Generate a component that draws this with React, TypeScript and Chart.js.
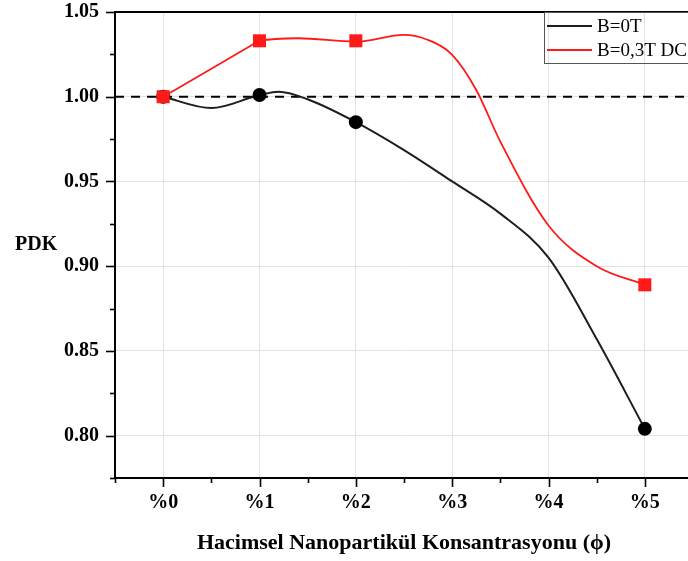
import React, { useEffect, useRef } from 'react';
import { Chart, registerables } from 'chart.js';

Chart.register(...registerables);

// ---- data ----
const categories = ['%0', '%1', '%2', '%3', '%4', '%5'];
const markerX = [0, 1, 2, 5];
const b0Markers = [1.0, 1.001, 0.985, 0.804];
const b03Markers = [1.0, 1.033, 1.033, 0.889];
// smoothed curves as traced in the picture
const b0CurveX = [0, 0.5, 1, 1.2, 1.5, 2, 2.5, 3, 3.5, 4, 4.5, 5];
const b0CurveY = [1.0, 0.9933, 1.001, 1.003, 0.9985, 0.985, 0.9685, 0.95, 0.931, 0.905, 0.857, 0.804];
const b03CurveX = [0, 0.5, 0.9, 1, 1.4, 2, 2.5, 2.75, 3, 3.25, 3.5, 4, 4.5, 5];
const b03CurveY = [1.0, 1.0165, 1.0298, 1.033, 1.0345, 1.0325, 1.0365, 1.0335, 1.0247, 1.004, 0.9735, 0.924, 0.9, 0.889];
const yTicks = [0.8, 0.85, 0.9, 0.95, 1.0, 1.05];
const yMinorTicks = [0.775, 0.825, 0.875, 0.925, 0.975, 1.025];
const xMinorTicks = [-0.5, 0.5, 1.5, 2.5, 3.5, 4.5, 5.5];
const refLineY = 1.0;
const seriesLabels = ['B=0T', 'B=0,3T DC'];
const xTitle = 'Hacimsel Nanopartikül Konsantrasyonu (ϕ)';
const yTitle = 'PDK';

const SERIF = '"Liberation Serif", "Times New Roman", "DejaVu Serif", serif';
const BLACK = '#1e1e1e';
const RED = '#ff1a1a';

const pts = (xs: number[], ys: number[]) => xs.map((x, i) => ({ x, y: ys[i] }));

const framePlugin = {
  id: 'frameAndTicks',
  afterDraw(chart: any) {
    const { ctx, chartArea, scales } = chart;
    const xs = scales.x;
    const ys = scales.y;
    ctx.save();
    ctx.strokeStyle = '#000';
    ctx.lineWidth = 2;
    // top frame
    ctx.beginPath();
    ctx.moveTo(chartArea.left, chartArea.top);
    ctx.lineTo(chartArea.right, chartArea.top);
    ctx.stroke();
    ctx.lineWidth = 1.6;
    // y ticks
    yTicks.forEach((v) => {
      const p = Math.round(ys.getPixelForValue(v)) + 0.5;
      ctx.beginPath();
      ctx.moveTo(chartArea.left - 9, p);
      ctx.lineTo(chartArea.left, p);
      ctx.stroke();
    });
    yMinorTicks.forEach((v) => {
      const p = Math.round(ys.getPixelForValue(v)) + 0.5;
      ctx.beginPath();
      ctx.moveTo(chartArea.left - 5, p);
      ctx.lineTo(chartArea.left, p);
      ctx.stroke();
    });
    // x ticks
    categories.forEach((_, i) => {
      const p = Math.round(xs.getPixelForValue(i)) + 0.5;
      ctx.beginPath();
      ctx.moveTo(p, chartArea.bottom);
      ctx.lineTo(p, chartArea.bottom + 9);
      ctx.stroke();
    });
    xMinorTicks.forEach((v) => {
      const p = Math.round(xs.getPixelForValue(v)) + 0.5;
      ctx.beginPath();
      ctx.moveTo(p, chartArea.bottom);
      ctx.lineTo(p, chartArea.bottom + 5);
      ctx.stroke();
    });
    // y title (horizontal)
    ctx.fillStyle = '#000';
    ctx.font = `bold 20px ${SERIF}`;
    ctx.textAlign = 'left';
    ctx.textBaseline = 'middle';
    ctx.fillText(yTitle, 15, 245);
    // legend
    const lx = chartArea.right - 149;
    const ly = chartArea.top;
    ctx.lineWidth = 1;
    ctx.strokeStyle = '#555';
    ctx.strokeRect(lx + 0.5, ly + 0.5, 200, 51);
    const colors = [BLACK, RED];
    seriesLabels.forEach((lab, i) => {
      const y = ly + 14 + i * 24;
      ctx.strokeStyle = colors[i];
      ctx.lineWidth = 2;
      ctx.beginPath();
      ctx.moveTo(lx + 3, y);
      ctx.lineTo(lx + 48, y);
      ctx.stroke();
      ctx.fillStyle = '#000';
      ctx.font = `19px ${SERIF}`;
      ctx.textBaseline = 'middle';
      ctx.fillText(lab, lx + 53, y + 1);
    });
    ctx.restore();
  },
};

export default function App() {
  const ref = useRef<HTMLCanvasElement>(null);
  useEffect(() => {
    const canvas = ref.current;
    if (!canvas) return;
    const chart = new Chart(canvas, {
      type: 'line',
      data: {
        datasets: [
          {
            label: seriesLabels[1] + ' markers',
            data: pts(markerX, b03Markers),
            showLine: false,
            pointStyle: 'rect',
            pointRadius: 9.2,
            pointBackgroundColor: RED,
            pointBorderColor: RED,
            pointBorderWidth: 0,
            order: 0,
          } as any,
          {
            label: seriesLabels[0] + ' markers',
            data: pts(markerX, b0Markers),
            showLine: false,
            pointStyle: 'circle',
            pointRadius: 7,
            pointBackgroundColor: '#000',
            pointBorderColor: '#000',
            pointBorderWidth: 0,
            order: 1,
          },
          {
            label: seriesLabels[1],
            data: pts(b03CurveX, b03CurveY),
            borderColor: RED,
            borderWidth: 1.8,
            pointRadius: 0,
            cubicInterpolationMode: 'monotone',
            order: 2,
          },
          {
            label: seriesLabels[0],
            data: pts(b0CurveX, b0CurveY),
            borderColor: BLACK,
            borderWidth: 2,
            pointRadius: 0,
            cubicInterpolationMode: 'monotone',
            order: 3,
          },
          {
            label: 'ref',
            data: [
              { x: -0.5, y: refLineY },
              { x: 5.5, y: refLineY },
            ],
            borderColor: '#000',
            borderWidth: 2,
            borderDash: [9, 7],
            pointRadius: 0,
            order: 4,
          },
        ],
      },
      options: {
        animation: false,
        responsive: true,
        maintainAspectRatio: false,
        layout: { padding: { left: 0, top: 12, right: 27, bottom: 0 } },
        plugins: { legend: { display: false }, tooltip: { enabled: false } },
        scales: {
          x: {
            type: 'linear',
            min: -0.5,
            max: 5.5,
            afterBuildTicks: (s: any) => {
              s.ticks = categories.map((_, i) => ({ value: i }));
            },
            afterFit: (s: any) => {
              s.height = 83;
              s.paddingLeft = 0;
              s.paddingRight = 0;
            },
            ticks: {
              callback: (v: any) => categories[v] ?? '',
              font: { family: SERIF, weight: 'bold', size: 20 },
              color: '#000',
              padding: 4,
              maxRotation: 0,
              autoSkip: false,
            },
            grid: { color: '#e2e2e2', lineWidth: 1, tickLength: 9, tickColor: 'rgba(0,0,0,0)' },
            border: { color: '#000', width: 2 },
            title: {
              display: true,
              text: xTitle,
              font: { family: SERIF, weight: 'bold', size: 22 },
              color: '#000',
              padding: { top: 0, bottom: 4 },
            },
          },
          y: {
            type: 'linear',
            min: 0.775,
            max: 1.05,
            afterBuildTicks: (s: any) => {
              s.ticks = yTicks.map((v) => ({ value: v }));
            },
            afterFit: (s: any) => {
              s.width = 115;
              s.paddingTop = 0;
              s.paddingBottom = 0;
            },
            ticks: {
              callback: (v: any) => Number(v).toFixed(2),
              font: { family: SERIF, weight: 'bold', size: 20 },
              color: '#000',
              padding: 7,
            },
            grid: { color: '#e2e2e2', lineWidth: 1, tickLength: 9, tickColor: 'rgba(0,0,0,0)' },
            border: { color: '#000', width: 2 },
          },
        },
      } as any,
      plugins: [framePlugin],
    });
    return () => chart.destroy();
  }, []);
  return (
    <div
      style={{
        position: 'fixed',
        left: 0,
        top: 0,
        width: 688,
        height: 561,
        overflow: 'hidden',
        background: '#fff',
      }}
    >
      <div style={{ position: 'relative', width: 720, height: 561 }}>
        <canvas ref={ref} />
      </div>
    </div>
  );
}
